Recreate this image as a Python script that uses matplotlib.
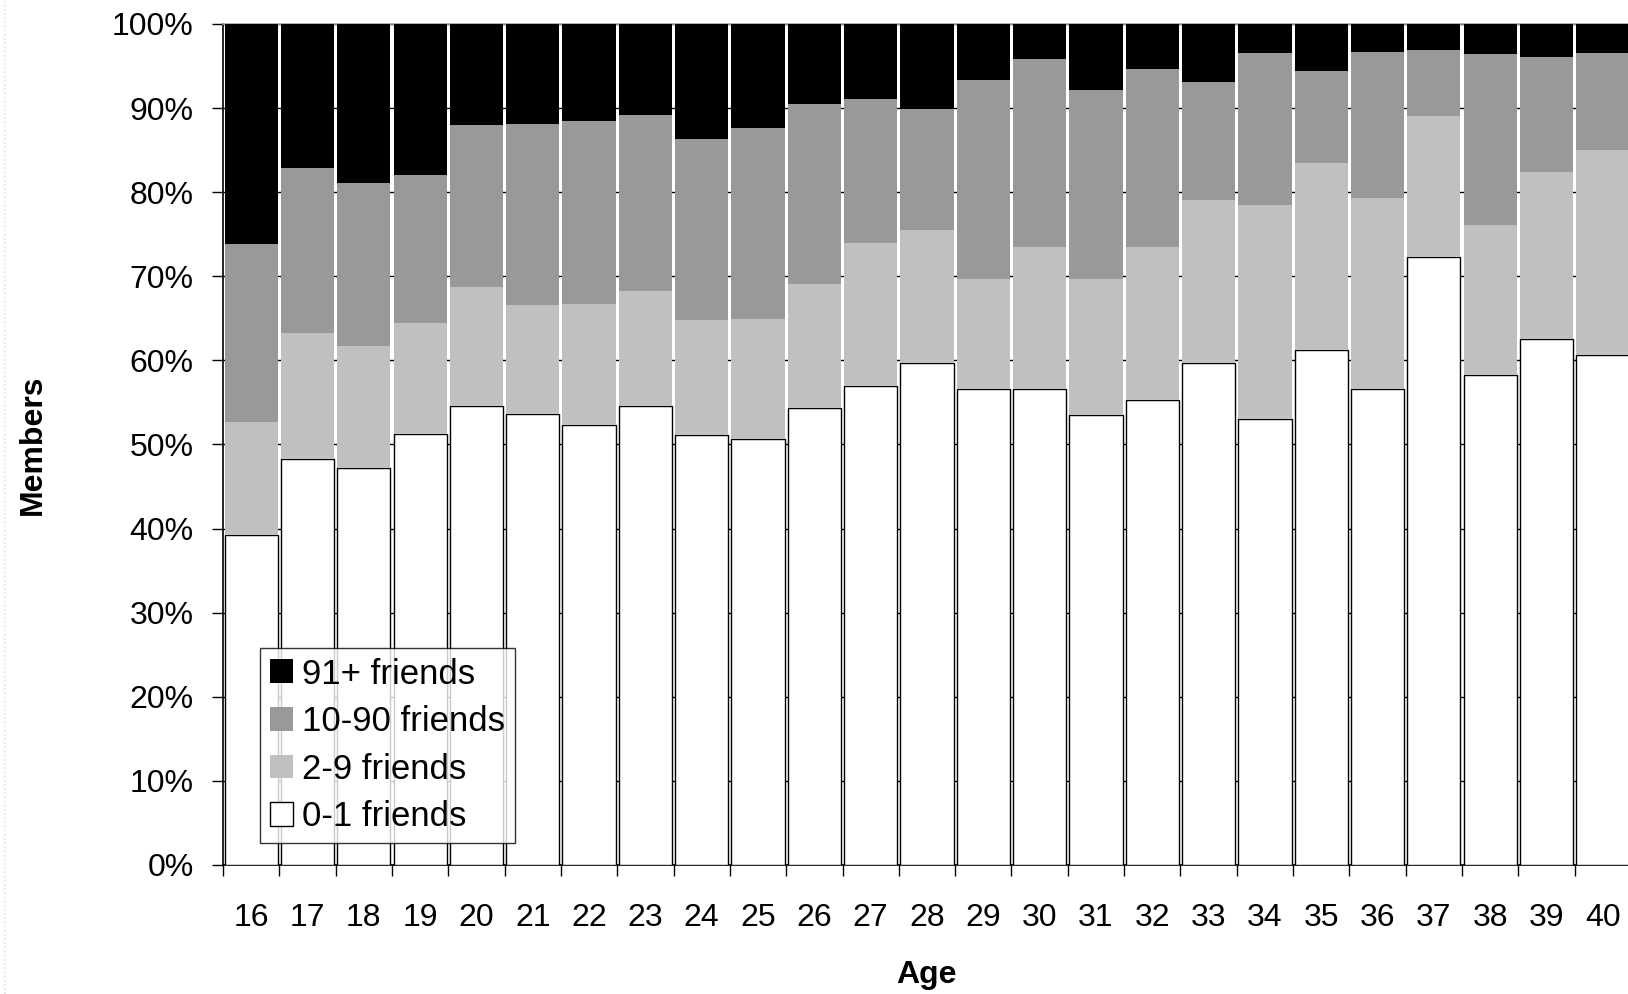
import matplotlib
matplotlib.use("Agg")
import matplotlib.pyplot as plt
import numpy as np
from matplotlib.patches import Patch
from matplotlib.lines import Line2D

plt.rcParams['font.family'] = ['Liberation Sans', 'DejaVu Sans']

ages = [str(a) for a in range(16, 41)]
# cumulative tops (%)
top_0_1 = [39.2, 48.3, 47.2, 51.2, 54.6, 53.6, 52.3, 54.6, 51.1, 50.6, 54.3, 57.0, 59.7,
           56.6, 56.6, 53.5, 55.3, 59.7, 53.0, 61.2, 56.6, 72.3, 58.3, 62.5, 60.7]
top_2_9 = [52.7, 63.3, 61.7, 64.4, 68.7, 66.6, 66.7, 68.2, 64.8, 64.9, 69.1, 74.0, 75.5,
           69.7, 73.5, 69.7, 73.5, 79.1, 78.5, 83.5, 79.3, 89.1, 76.1, 82.4, 85.0]
top_10_90 = [73.9, 82.9, 81.1, 82.1, 88.0, 88.1, 88.5, 89.2, 86.3, 87.6, 90.5, 91.1, 89.9,
             93.3, 95.8, 92.1, 94.6, 93.1, 96.6, 94.4, 96.7, 96.9, 96.4, 96.1, 96.6]

s0 = np.array(top_0_1)
s1 = np.array(top_2_9) - s0
s2 = np.array(top_10_90) - np.array(top_2_9)
s3 = 100 - np.array(top_10_90)

W, H = 1628, 994
fig = plt.figure(figsize=(W / 100, H / 100), dpi=100)

# faint slide-template decoration on the left edge
fig.add_artist(Line2D([5 / W, 5 / W], [0, 1], transform=fig.transFigure,
                      color='#d8e0f4', linewidth=1.2, linestyle=(0, (1, 1.5))))

ax = fig.add_axes([223 / W, 129 / H, 1408 / W, 841 / H])

x = np.arange(len(ages))
bw = 0.945
c_white, c_light, c_mid, c_black = '#ffffff', '#c0c0c0', '#999999', '#000000'
ax.bar(x, s0, bw, color=c_white, edgecolor='black', linewidth=1.0, zorder=3)
ax.bar(x, s1, bw, bottom=s0, color=c_light, linewidth=0, zorder=3)
ax.bar(x, s2, bw, bottom=s0 + s1, color=c_mid, linewidth=0, zorder=3)
ax.bar(x, s3, bw, bottom=s0 + s1 + s2, color=c_black, linewidth=0, zorder=3)

ax.set_xlim(-0.5, len(ages) - 0.5)
ax.set_ylim(0, 100)
ax.set_yticks(np.arange(0, 101, 10))
ax.set_yticklabels([f"{v}%" for v in range(0, 101, 10)], fontsize=23)
ax.yaxis.grid(True, color='black', linewidth=1.0, zorder=0)
ax.set_axisbelow(True)

ax.set_xticks(x)
ax.set_xticklabels(ages, fontsize=23)
ax.set_xticks(np.arange(-0.5, len(ages), 1), minor=True)
ax.tick_params(axis='x', which='major', length=0, pad=27)
ax.tick_params(axis='x', which='minor', length=8, width=1, color='black', direction='out')
ax.tick_params(axis='y', which='major', length=8, width=1, color='black', direction='out', pad=13)

for side in ['left', 'bottom']:
    ax.spines[side].set_color('black')
    ax.spines[side].set_linewidth(1.2)
ax.spines['top'].set_color('#a0a0a0')
ax.spines['top'].set_linewidth(1.2)
ax.spines['right'].set_visible(False)

ax.set_xlabel('Age', fontsize=23, fontweight='bold')
ax.set_ylabel('Members', fontsize=23, fontweight='bold')
ax.xaxis.set_label_coords((926 - 223) / 1408, (865 - 960) / 841)
ax.yaxis.set_label_coords((48 - 223) / 1408, (865 - 445) / 841)

handles = [Patch(facecolor=c_black, edgecolor='none', label='91+ friends'),
           Patch(facecolor=c_mid, edgecolor='none', label='10-90 friends'),
           Patch(facecolor=c_light, edgecolor='none', label='2-9 friends'),
           Patch(facecolor=c_white, edgecolor='black', linewidth=1, label='0-1 friends')]
leg = ax.legend(handles=handles, loc='lower left',
                bbox_to_anchor=((260 - 223) / 1408, (865 - 843) / 841),
                borderaxespad=0, fontsize=25, frameon=True, fancybox=False,
                handlelength=0.68, handleheight=0.68, handletextpad=0.25,
                labelspacing=0.42, borderpad=0.28)
leg.get_frame().set_edgecolor('black')
leg.get_frame().set_linewidth(1.0)
leg.set_zorder(10)

fig.savefig('out.png', dpi=100, facecolor='white')
